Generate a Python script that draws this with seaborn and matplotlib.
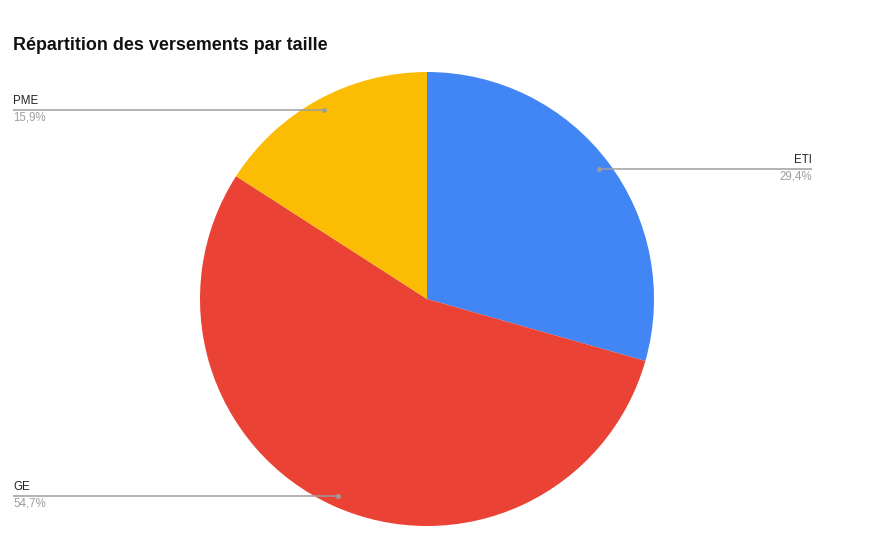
import numpy as np
import matplotlib.pyplot as plt
import seaborn as sns

# Data
categories = ['ETI', 'GE', 'PME']
shares = [29.4, 54.7, 15.9]
pct_labels = ['29,4%', '54,7%', '15,9%']
colors = ['#4285F4', '#EA4335', '#FBBC04']

sns.set_style('white')
plt.rcParams['font.family'] = ['Liberation Sans', 'DejaVu Sans']

W, H = 885, 550
fig = plt.figure(figsize=(W / 100, H / 100), dpi=100)
ax = fig.add_axes([0, 0, 1, 1])

cx, cy, r = 427, H - 299, 227
wedges, _ = ax.pie(shares, colors=colors, startangle=90, counterclock=False,
                   center=(cx, cy), radius=r, frame=True,
                   wedgeprops=dict(linewidth=0))
ax.set_xlim(0, W)
ax.set_ylim(0, H)
ax.axis('off')

# leader lines: anchored inside each slice, label at left/right margin
line_col = '#9e9e9e'
for w, cat, pct in zip(wedges, categories, pct_labels):
    mid = np.deg2rad((w.theta1 + w.theta2) / 2)
    ax_x = cx + 0.95 * r * np.cos(mid)
    ax_y = cy + 0.95 * r * np.sin(mid)
    if ax_x > cx:
        x_end, ha = 812, 'right'
    else:
        x_end, ha = 13, 'left'
    ax.plot([ax_x, x_end], [ax_y, ax_y], color=line_col, lw=1.1,
            solid_capstyle='butt', zorder=3)
    ax.plot([ax_x], [ax_y], 'o', color=line_col, ms=2.5, zorder=4)
    ax.text(x_end, ax_y + 2.5, cat, ha=ha, va='bottom', fontsize=8.3,
            color='#222222')
    ax.text(x_end, ax_y - 2, pct, ha=ha, va='top', fontsize=8.3,
            color='#9e9e9e')

fig.text(13 / W, 1 - 46 / H, 'Répartition des versements par taille',
         ha='left', va='center', fontsize=12.9, fontweight='bold',
         color='#111111')

fig.savefig('out.png', dpi=100)
